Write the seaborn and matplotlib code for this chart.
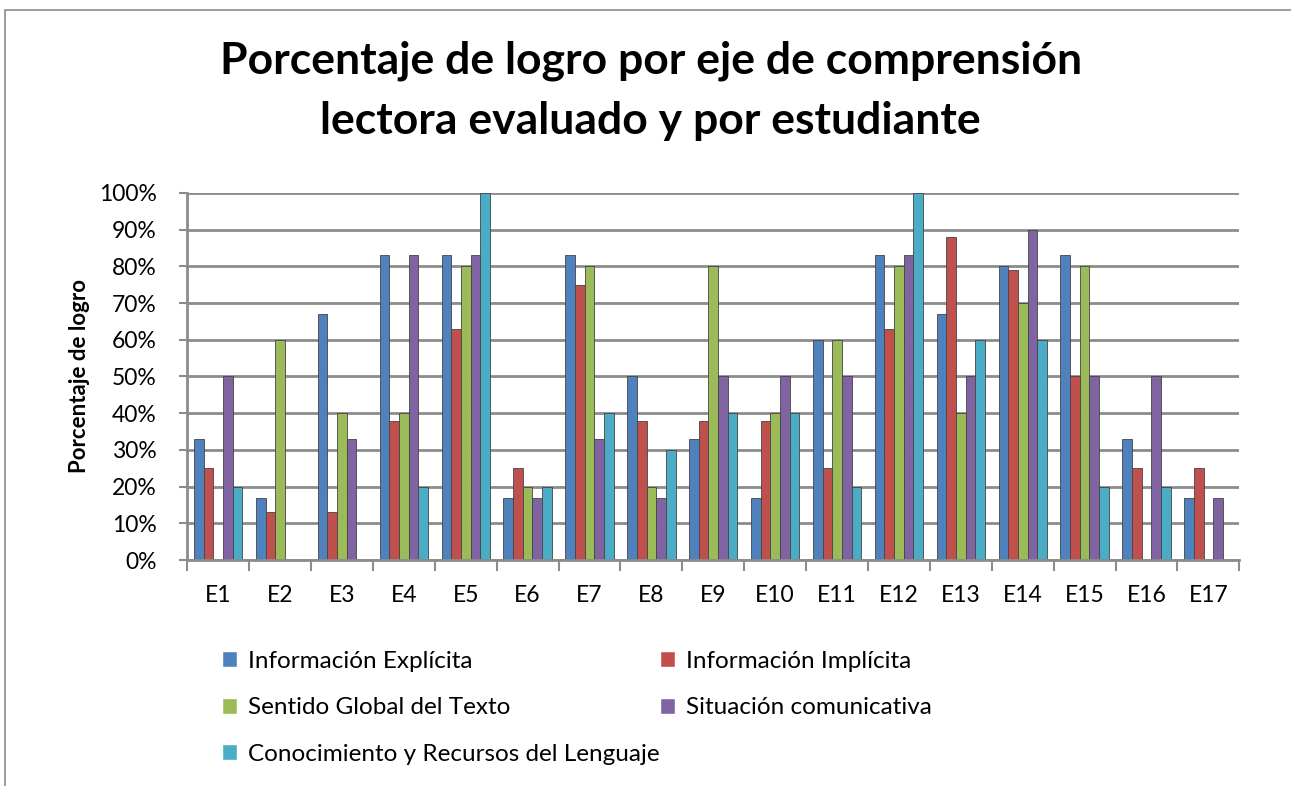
import pandas as pd
import matplotlib.pyplot as plt
import seaborn as sns
from matplotlib.patches import Rectangle, Patch
from matplotlib.ticker import PercentFormatter

# ── DATA ───────────────────────────────────────────────
estudiantes = ['E1', 'E2', 'E3', 'E4', 'E5', 'E6', 'E7', 'E8', 'E9',
               'E10', 'E11', 'E12', 'E13', 'E14', 'E15', 'E16', 'E17']

ejes = [
    'Información Explícita',
    'Información Implícita',
    'Sentido Global del Texto',
    'Situación comunicativa',
    'Conocimiento y Recursos del Lenguaje',
]

explicita    = [33, 17, 67, 83, 83, 17, 83, 50, 33, 17, 60, 83, 67, 80, 83, 33, 17]
implicita    = [25, 13, 13, 38, 63, 25, 75, 38, 38, 38, 25, 63, 88, 79, 50, 25, 25]
sentido      = [0, 60, 40, 40, 80, 20, 80, 20, 80, 40, 60, 80, 40, 70, 80, 0, 0]
situacion    = [50, 0, 33, 83, 83, 17, 33, 17, 50, 50, 50, 83, 50, 90, 50, 50, 17]
conocimiento = [20, 0, 0, 20, 100, 20, 40, 30, 40, 40, 20, 100, 60, 60, 20, 20, 0]

colores = ['#4F81BD', '#C0504D', '#9BBB59', '#8064A2', '#4BACC6']

# long format for seaborn
series = [explicita, implicita, sentido, situacion, conocimiento]
rows = []
for eje, valores in zip(ejes, series):
    for est, v in zip(estudiantes, valores):
        rows.append({'Estudiante': est, 'Eje': eje, 'Logro': v})
df = pd.DataFrame(rows)

# ── PLOT ───────────────────────────────────────────────
sns.set_style('white')
plt.rcParams['font.family'] = ['Lato', 'DejaVu Sans']
plt.rcParams['text.color'] = 'black'
plt.rcParams['xtick.color'] = 'black'
plt.rcParams['ytick.color'] = 'black'
plt.rcParams['axes.labelcolor'] = 'black'

fig = plt.figure(figsize=(12.91, 7.86), dpi=100)
ax = fig.add_axes([0.145, 0.2875, 0.815, 0.467])

sns.barplot(data=df, x='Estudiante', y='Logro', hue='Eje', palette=colores,
            width=0.78, edgecolor='#444444', linewidth=0.6, saturation=1,
            ax=ax, legend=False)

ax.set_ylim(0, 100)
ax.set_xlim(-0.5, len(estudiantes) - 0.5)
ax.set_yticks(range(0, 101, 10))
ax.yaxis.set_major_formatter(PercentFormatter(decimals=0))
ax.yaxis.grid(True, color='#8c8c8c', linewidth=2)
ax.set_axisbelow(True)

for s in ['top', 'right']:
    ax.spines[s].set_visible(False)
ax.spines['left'].set_color('#8c8c8c')
ax.spines['left'].set_linewidth(2)
ax.spines['bottom'].set_color('#8c8c8c')
ax.spines['bottom'].set_linewidth(2)

# group separator ticks on the x axis
ax.set_xticks([i - 0.5 for i in range(len(estudiantes) + 1)], minor=True)
ax.tick_params(axis='x', which='minor', length=8, width=1.5, color='#8c8c8c', bottom=True)
ax.tick_params(axis='x', which='major', length=0, labelsize=16.5, pad=18)
ax.tick_params(axis='y', length=6, width=1.5, color='#8c8c8c', labelsize=16.5, pad=16, left=True)

ax.set_xlabel('')
ax.set_ylabel('Porcentaje de logro', fontsize=16, fontweight='bold', labelpad=6)

fig.text(0.504, 0.948, 'Porcentaje de logro por eje de comprensión\nlectora evaluado y por estudiante',
         ha='center', va='top', fontsize=32, fontweight='bold', linespacing=1.6)

# legend in row order (two columns)
handles = [Patch(facecolor=c) for c in colores]
orden = [0, 2, 4, 1, 3]
fig.legend([handles[i] for i in orden], [ejes[i] for i in orden],
           loc='upper left', bbox_to_anchor=(0.155, 0.2), ncol=2, frameon=False,
           fontsize=17.5, handlelength=0.62, handleheight=0.62, handletextpad=0.45,
           labelspacing=1.05, columnspacing=0.0)

# chart border
fig.patches.append(Rectangle((5 / 1291, -0.02), 1.1, 0.02 + 776 / 786,
                             transform=fig.transFigure, fill=False,
                             edgecolor='#8c8c8c', linewidth=1.2))

fig.savefig('out.png', dpi=100)
